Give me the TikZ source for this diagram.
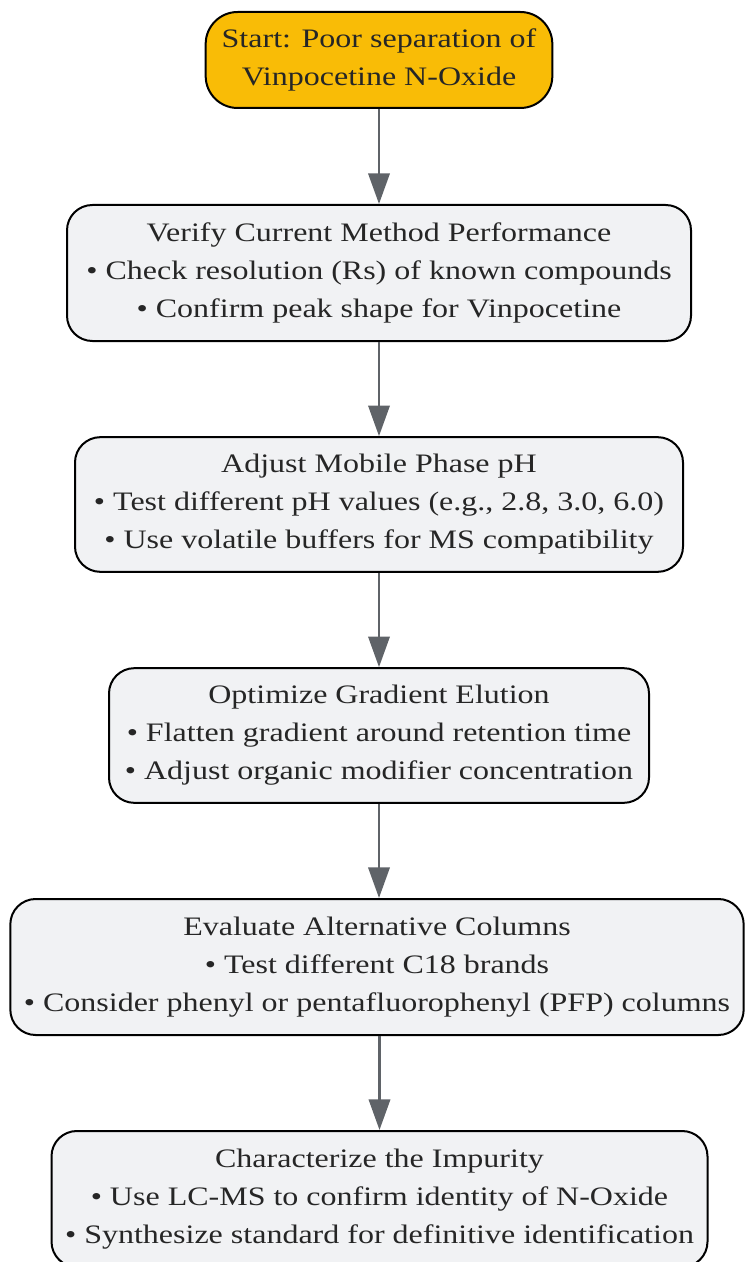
\documentclass[tikz,border=0pt]{standalone}
\usepackage{fontspec}
\setmainfont[FakeStretch=1.2]{Liberation Serif}
\usetikzlibrary{arrows.meta}

\definecolor{startfill}{HTML}{F9BC06}
\definecolor{stepfill}{HTML}{F1F2F4}
\definecolor{arrowgray}{HTML}{5F6368}

\tikzset{
    stepbox/.style={draw=black, line width=1.5pt, fill=stepfill, rounded corners=19pt,
        align=center, inner sep=0pt, font=\fontsize{20}{28.5}\selectfont, text=black!85},
    startbox/.style={stepbox, fill=startfill, rounded corners=24pt},
    flow/.style={draw=arrowgray, line width=2pt, -{Triangle[length=23pt,width=16pt]}}
}

\begin{document}
\begin{tikzpicture}[x=0.75pt, y=-0.75pt]
    % Page frame in pixels of the reference
    \useasboundingbox (0,0) rectangle (744,1262);

    % Steps of the flow, top to bottom
    \node[startbox, minimum width=260pt, minimum height=72pt] (start) at (379,60)
        {Start: Poor separation of\\Vinpocetine N-Oxide};
    \node[stepbox, minimum width=468pt, minimum height=102pt] (verify) at (379,273)
        {Verify Current Method Performance\\
         • Check resolution (Rs) of known compounds\\
         • Confirm peak shape for Vinpocetine};
    \node[stepbox, minimum width=456pt, minimum height=101pt] (ph) at (379,504.5)
        {Adjust Mobile Phase pH\\
         • Test different pH values (e.g., 2.8, 3.0, 6.0)\\
         • Use volatile buffers for MS compatibility};
    \node[stepbox, minimum width=405pt, minimum height=101pt] (gradient) at (379,735.5)
        {Optimize Gradient Elution\\
         • Flatten gradient around retention time\\
         • Adjust organic modifier concentration};
    \node[stepbox, minimum width=550pt, minimum height=102pt] (columns) at (377,967)
        {Evaluate Alternative Columns\\
         • Test different C18 brands\\
         • Consider phenyl or pentafluorophenyl (PFP) columns};
    \node[stepbox, minimum width=492pt, minimum height=102pt] (impurity) at (379.5,1199)
        {Characterize the Impurity\\
         • Use LC-MS to confirm identity of N-Oxide\\
         • Synthesize standard for definitive identification};

    % Connectors
    \draw[flow] (start) -- (verify);
    \draw[flow] (verify) -- (ph);
    \draw[flow] (ph) -- (gradient);
    \draw[flow] (gradient) -- (columns.north -| gradient);
    \draw[flow] (columns.south -| impurity) -- (impurity);

\end{tikzpicture}
\end{document}
